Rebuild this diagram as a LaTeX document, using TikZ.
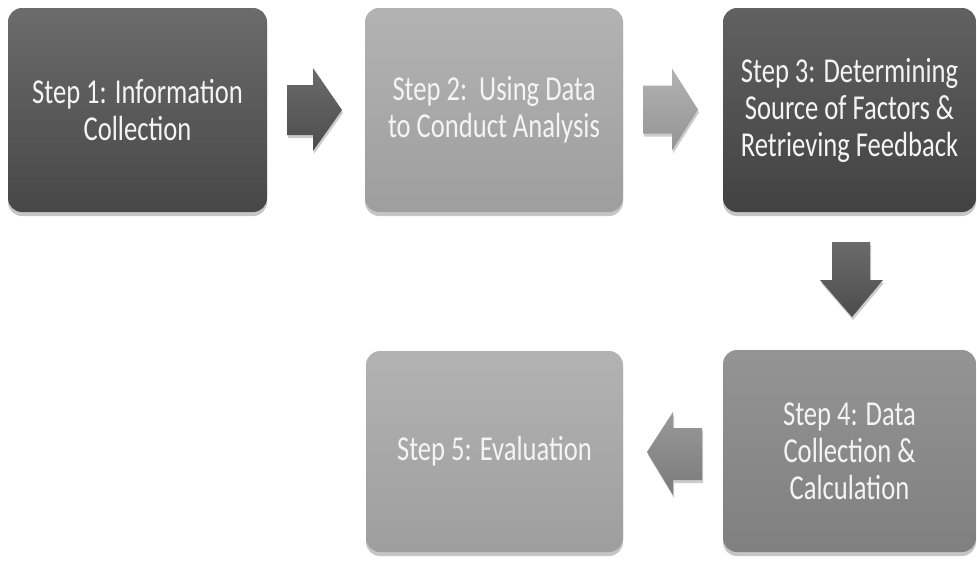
\documentclass[tikz,border=0pt]{standalone}
\usepackage{fontspec}
\newfontfamily\stepfont[FakeStretch=0.76]{Carlito}
\usetikzlibrary{shadows}
\definecolor{txt}{HTML}{F4F4F4}
\begin{document}
\begin{tikzpicture}[x=1pt,y=-1pt,
  stepbox/.style={rounded corners=14pt, inner sep=0pt, align=center,
    text=txt, font=\stepfont\fontsize{35}{37}\selectfont,
    drop shadow={shadow xshift=0pt, shadow yshift=-4pt, opacity=0.45}},
  darkbox/.style={top color=black!58, bottom color=black!72},
  darkerbox/.style={top color=black!62, bottom color=black!74},
  midbox/.style={top color=black!42, bottom color=black!50},
  lightbox/.style={top color=black!30, bottom color=black!38},
  blockarrow/.style={drop shadow={shadow xshift=1pt, shadow yshift=-3pt, opacity=0.4}},
  darkarrow/.style={blockarrow, top color=black!58, bottom color=black!70},
  lightarrow/.style={blockarrow, top color=black!30, bottom color=black!42},
  midarrow/.style={blockarrow, top color=black!40, bottom color=black!52}]
\path[use as bounding box, fill=white] (0,0) rectangle (977,562);

\node[stepbox, darkbox, minimum width=259pt, minimum height=204pt] (s1) at (137.5,110)
  {Step 1: Information\\Collection};
\node[stepbox, lightbox, minimum width=258pt, minimum height=204pt] (s2) at (494,110)
  {Step 2:\ \ Using Data\\to Conduct Analysis};
\node[stepbox, darkerbox, minimum width=253pt, minimum height=204pt] (s3) at (849.5,110)
  {Step 3: Determining\\Source of Factors \&\\Retrieving Feedback};
\node[stepbox, midbox, minimum width=253pt, minimum height=202pt] (s4) at (849.5,451)
  {Step 4: Data\\Collection \&\\Calculation};
\node[stepbox, lightbox, minimum width=257pt, minimum height=201pt] (s5) at (494.5,451.5)
  {Step 5: Evaluation};

\coordinate (a1) at (314.5,110);
\coordinate (a2) at (670.5,109.5);
\coordinate (a3) at (852,279.5);
\coordinate (a4) at (674.5,453.5);

% arrow 1 -> right
\path[darkarrow, shift={(a1)}]
  (-27.5,-25) -- (-1.5,-25) -- (-1.5,-42) -- (27.5,0) -- (-1.5,41) -- (-1.5,25) -- (-27.5,25) -- cycle;
% arrow 2 -> right
\path[lightarrow, shift={(a2)}]
  (-27.5,-24) -- (1.5,-24) -- (1.5,-41) -- (27.5,0) -- (1.5,41) -- (1.5,24) -- (-27.5,24) -- cycle;
% arrow 3 -> down
\path[darkarrow, shift={(a3)}]
  (-20,-37.5) -- (18,-37.5) -- (18,0.5) -- (31,0.5) -- (0,37.5) -- (-32,0.5) -- (-20,0.5) -- cycle;
% arrow 4 -> left
\path[midarrow, shift={(a4)}]
  (27.5,-25.5) -- (-1.5,-25.5) -- (-1.5,-41.5) -- (-27.5,-1.5) -- (-1.5,41.5) -- (-1.5,26.5) -- (27.5,26.5) -- cycle;
\end{tikzpicture}
\end{document}
